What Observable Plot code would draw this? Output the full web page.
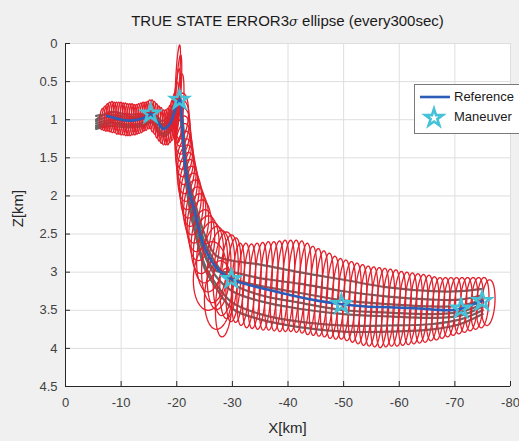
<!DOCTYPE html>
<html><head><meta charset="utf-8">
<script src="https://cdn.jsdelivr.net/npm/d3@7"></script>
<script src="https://cdn.jsdelivr.net/npm/@observablehq/plot@0.6"></script>
<style>
body{margin:0;background:#f0f0f0;}
#wrap{position:relative;width:519px;height:441px;overflow:hidden;font-family:"Liberation Sans",Arial,sans-serif;color:#262626;}
#wrap svg{position:absolute;left:0;top:0;}
.lab{position:absolute;white-space:nowrap;}
</style></head>
<body><div id="wrap"></div>
<script>
// ---- data (km) ----
const xTicks = [0,-10,-20,-30,-40,-50,-60,-70,-80];
const yTicks = [0,0.5,1,1.5,2,2.5,3,3.5,4,4.5];

const refX = [-7.5,-9,-11,-13,-14.5,-15.3,-16.5,-17.6,-18.8,-19.8,-20.6,-20.9,-21.2,-21.6,-22.3,-23.2,-24.7,-27.1,-29.8,-33,-37,-41,-45,-49.6,-54,-58,-62,-66,-69,-71.1,-73,-74.9];
const refZ = [0.95,0.98,1.01,1.0,0.96,0.92,1.02,1.12,1.05,0.85,0.73,1.0,1.3,1.65,1.95,2.2,2.62,2.94,3.09,3.17,3.24,3.31,3.37,3.42,3.45,3.46,3.47,3.49,3.5,3.48,3.43,3.38];

const manX = [-15.3,-20.5,-29.8,-49.6,-71.1,-74.9];
const manZ = [0.92,0.74,3.09,3.42,3.48,3.38];

// Monte Carlo true-state runs (gray)
const runX = [-5.5,-8,-11,-14,-15.5,-17.5,-19.5,-20.5,-21,-21.6,-22.4,-23.5,-25,-27,-30,-35,-42,-50,-58,-66,-71,-75];
const run1 = [1.0,0.9,0.93,0.92,0.88,1.02,0.8,0.7,0.95,1.45,1.85,2.15,2.5,2.78,2.85,2.9,3.0,3.1,3.2,3.25,3.25,3.22];
const run2 = [1.08,1.03,1.06,1.04,0.98,1.18,0.98,0.8,1.15,1.7,2.05,2.4,2.75,2.98,3.0,3.08,3.15,3.25,3.32,3.36,3.36,3.3];
const run3 = [1.05,1.0,1.02,0.99,0.95,1.1,0.92,0.78,1.1,1.65,2.05,2.38,2.78,3.05,3.25,3.38,3.48,3.55,3.58,3.6,3.57,3.45];
const run4 = [1.1,1.05,1.08,1.06,1.02,1.2,1.05,0.85,1.2,1.75,2.15,2.5,2.9,3.15,3.4,3.55,3.65,3.7,3.7,3.68,3.62,3.5];
const run5 = [0.95,0.93,0.96,0.95,0.9,1.06,0.85,0.72,1.0,1.55,1.9,2.22,2.6,2.88,3.15,3.3,3.4,3.5,3.53,3.55,3.52,3.42];
const run6 = [1.02,0.96,0.99,0.97,0.93,1.08,0.88,0.75,1.05,1.58,1.97,2.3,2.68,2.92,3.08,3.18,3.27,3.37,3.42,3.45,3.44,3.36];
const run7 = [1.12,1.08,1.1,1.08,1.04,1.22,1.1,0.9,1.25,1.8,2.2,2.55,2.95,3.2,3.48,3.62,3.72,3.78,3.78,3.75,3.68,3.55];

// 3-sigma ellipses every 300 s: [centerX, centerZ, semiX, semiZ]
const ellipses = [
 [-6.6,0.99,0.45,0.14],[-7.0,0.98,0.45,0.16],[-7.4,0.97,0.45,0.18],[-7.8,0.96,0.45,0.19],[-8.2,0.96,0.45,0.2],
 [-8.6,0.97,0.45,0.2],[-9.0,0.97,0.45,0.2],[-9.4,0.98,0.45,0.21],[-9.8,0.98,0.45,0.21],[-10.2,0.99,0.45,0.21],
 [-10.6,0.99,0.45,0.21],[-11.0,1.0,0.45,0.21],[-11.4,1.0,0.45,0.21],[-11.8,1.0,0.45,0.21],[-12.2,1.0,0.45,0.2],
 [-12.6,1.0,0.45,0.2],[-13.0,0.99,0.45,0.2],[-13.4,0.98,0.45,0.2],[-13.8,0.97,0.45,0.2],[-14.2,0.96,0.45,0.19],
 [-14.6,0.95,0.45,0.19],[-15.0,0.93,0.45,0.19],[-15.4,0.93,0.45,0.19],[-15.8,0.96,0.45,0.2],[-16.2,0.99,0.45,0.2],
 [-16.6,1.03,0.45,0.21],[-17.0,1.06,0.45,0.22],[-17.4,1.09,0.45,0.22],[-17.8,1.1,0.45,0.23],[-18.2,1.09,0.45,0.24],
 [-18.6,1.07,0.45,0.26],[-19.0,1.02,0.45,0.28],[-19.4,0.96,0.45,0.31],[-19.8,0.87,0.45,0.36],[-20.1,0.78,0.45,0.45],
 [-20.3,0.65,0.45,0.5],[-20.2,0.42,0.35,0.4],[-20.6,0.85,0.6,0.45],
 [-20.8,0.95,1.3,0.3],[-20.9,1.05,1.35,0.3],[-21.0,1.15,1.4,0.3],[-21.1,1.25,1.4,0.3],[-21.2,1.35,1.45,0.3],
 [-21.35,1.45,1.5,0.3],[-21.5,1.55,1.5,0.3],[-21.65,1.65,1.55,0.32],[-21.85,1.75,1.6,0.32],[-22.1,1.85,1.6,0.33],
 [-22.35,1.95,1.65,0.34],[-22.7,2.05,1.7,0.35],[-23.0,2.15,1.75,0.36],[-23.4,2.25,1.8,0.37],[-23.8,2.35,1.9,0.38],
 [-24.2,2.45,2.0,0.4],[-24.7,2.6,2.1,0.42],[-25.3,2.7,2.3,0.44],[-26.0,2.8,2.4,0.46],[-26.8,2.9,2.3,0.5],
 [-27.6,2.97,2.1,0.52],[-28.5,3.02,1.9,0.55],[-29.4,3.06,1.6,0.55],[-30.2,3.1,1.3,0.55],
 [-26.0,3.05,3.0,0.45],[-27.5,3.3,2.5,0.45],[-28.5,3.4,1.5,0.45],
 [-31,3.14,1.1,0.52],[-32,3.16,1.1,0.54],[-33,3.18,1.1,0.55],[-34,3.18,1.1,0.56],[-35,3.18,1.1,0.57],
 [-36,3.18,1.1,0.58],[-37,3.18,1.1,0.58],[-38,3.18,1.1,0.59],[-39,3.18,1.1,0.6],[-40,3.18,1.1,0.6],
 [-41,3.18,1.1,0.6],[-42,3.19,1.1,0.6],[-43,3.21,1.1,0.59],[-44,3.24,1.1,0.58],[-45,3.26,1.1,0.57],
 [-46,3.28,1.1,0.56],[-47,3.3,1.1,0.55],[-48,3.33,1.1,0.54],[-49,3.35,1.1,0.53],[-50,3.36,1.1,0.52],
 [-51,3.38,1.1,0.52],[-52,3.4,1.1,0.52],[-53,3.42,1.1,0.52],[-54,3.44,1.1,0.52],[-55,3.45,1.1,0.52],
 [-56,3.46,1.1,0.52],[-57,3.47,1.1,0.52],[-58,3.47,1.1,0.51],[-59,3.47,1.1,0.5],[-60,3.48,1.1,0.49],
 [-61,3.48,1.1,0.48],[-62,3.48,1.1,0.47],[-63,3.48,1.1,0.46],[-64,3.48,1.1,0.45],[-65,3.48,1.1,0.44],
 [-66,3.48,1.1,0.42],[-67,3.48,1.1,0.41],[-68,3.47,1.1,0.4],[-69,3.46,1.1,0.39],[-70,3.45,1.1,0.38],
 [-71,3.44,1.1,0.37],[-72,3.43,1.1,0.36],[-73,3.42,1.1,0.35],[-74,3.41,1.1,0.34],[-75,3.4,1.1,0.33],
 [-76,3.4,1.2,0.3]
];

// ---- build tables ----
const ref = refX.map((x,i)=>({x, z: refZ[i]}));
const man = manX.map((x,i)=>({x, z: manZ[i]}));
const runs = [run1,run2,run3,run4,run5,run6,run7].flatMap((r,k)=>runX.map((x,i)=>({run:k, x, z:r[i]})));
const shear = 0.8;
const ellPts = ellipses.flatMap(([cx,cz,rx,rz],i)=>d3.range(49).map(k=>{
  const t = k/48*2*Math.PI;
  return {id:i, x: cx + rx*Math.cos(t) + shear*rz*Math.sin(t), z: cz + rz*Math.sin(t)};
}));

const font = '"Liberation Sans",Arial,sans-serif';
const chart = Plot.plot({
  width: 519, height: 441,
  marginLeft: 65, marginRight: 9, marginTop: 43, marginBottom: 55,
  style: {background: "transparent", fontFamily: font, fontSize: "13px", color: "#404040"},
  x: {domain: [0,-80]},
  y: {domain: [0,4.5], reverse: true},
  marks: [
    Plot.frame({fill: "white", stroke: "#d6d6d6"}),
    Plot.gridX(xTicks, {stroke: "#dedede", strokeOpacity: 1}),
    Plot.gridY(yTicks, {stroke: "#dedede", strokeOpacity: 1}),
    Plot.line(runs, {x: "x", y: "z", z: "run", stroke: "#666666", strokeWidth: 2.2, curve: "catmull-rom", clip: true}),
    Plot.line(ellPts, {x: "x", y: "z", z: "id", stroke: "#e3202b", strokeWidth: 1.3, clip: true}),
    Plot.line(ref, {x: "x", y: "z", stroke: "#2b5cb8", strokeWidth: 2.6, curve: "catmull-rom"}),
    Plot.dot(man, {x: "x", y: "z", symbol: "star", r: 5.5, fill: "none", stroke: "#45c1d8", strokeWidth: 2.6}),
    Plot.ruleX([0], {stroke: "#262626"}),
    Plot.ruleY([4.5], {stroke: "#262626"}),
    Plot.axisX(xTicks, {tickSize: 5, dy: -5, text: null, label: null, stroke: "#262626"}),
    Plot.axisY(yTicks, {tickSize: 5, dx: 5, text: null, label: null, stroke: "#262626"}),
    Plot.axisX(xTicks, {tickSize: 0, tickPadding: 11, tickFormat: d=>String(d), label: null, fontSize: 13, fill: "#404040"}),
    Plot.axisY(yTicks, {tickSize: 0, tickPadding: 8, tickFormat: d=>String(d), label: null, fontSize: 13, fill: "#404040"})
  ]
});
const wrap = document.getElementById("wrap");
wrap.appendChild(chart);

function addDiv(html, css){ const d=document.createElement("div"); d.className="lab"; d.innerHTML=html; d.style.cssText+=css; wrap.appendChild(d); return d; }
addDiv('TRUE STATE ERROR3<i style="font-family:\'DejaVu Serif\',serif;font-size:13px">σ</i> ellipse (every300sec)', 'left:0;width:575px;top:12px;text-align:center;font-size:15px;color:#1a1a1a;');
addDiv('X[km]', 'left:0;width:575px;top:419px;text-align:center;font-size:15px;color:#262626;');
addDiv('Z[km]', 'left:-23px;top:200px;width:80px;text-align:center;font-size:15px;color:#262626;transform:rotate(-90deg);');
// legend
const leg = addDiv('', 'left:414px;top:84px;width:130px;height:48px;background:white;border:1px solid #7a7a7a;font-size:13px;color:#1a1a1a;');
leg.innerHTML = `<svg width="40" height="48" style="position:absolute;left:0;top:0">
  <line x1="5" x2="35" y1="12" y2="12" stroke="#2b5cb8" stroke-width="2.6"/>
  <g transform="translate(19,33)"><path d="${d3.symbol(d3.symbolStar, 95)()}" fill="none" stroke="#45c1d8" stroke-width="2.6"/></g>
  </svg><div style="position:absolute;left:39px;top:4px">Reference</div><div style="position:absolute;left:39px;top:24px">Maneuver</div>`;
</script></body></html>
